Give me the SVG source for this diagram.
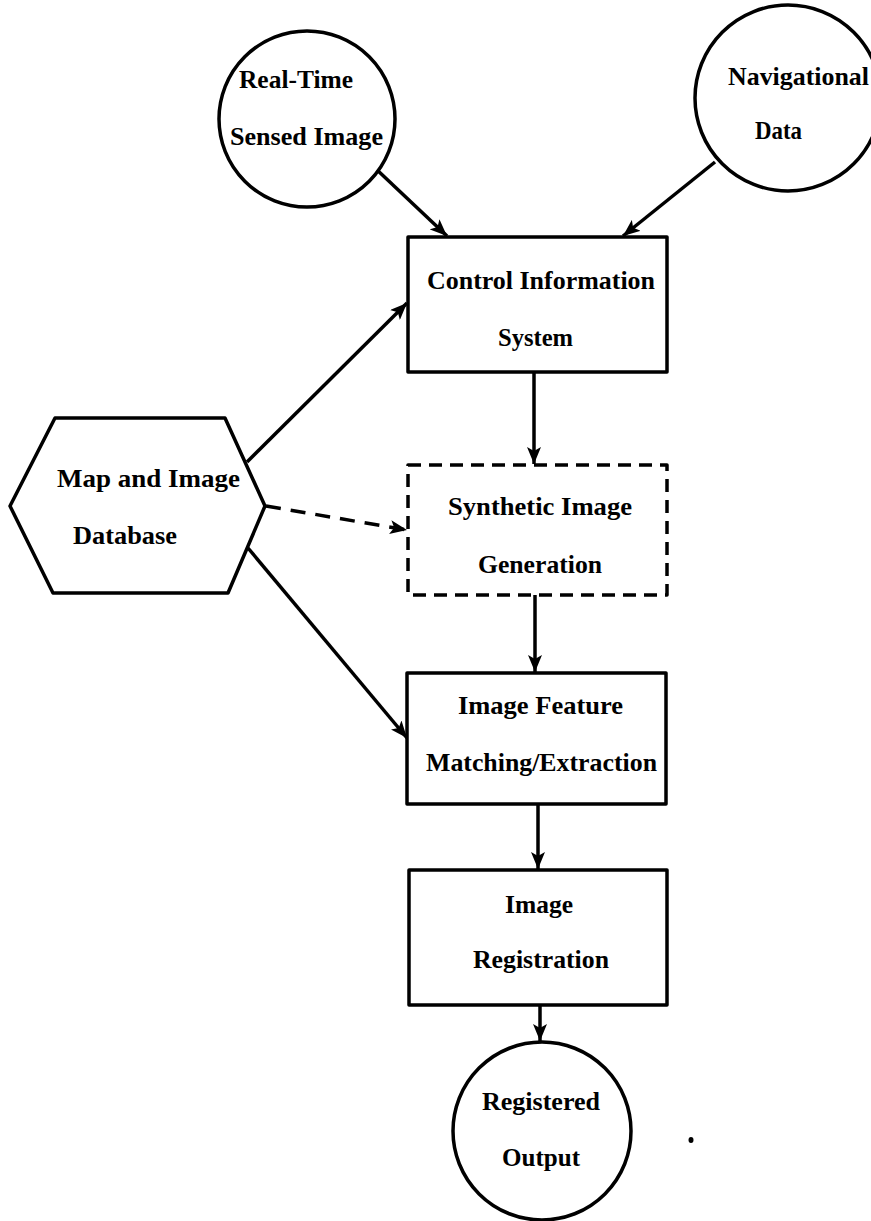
<svg xmlns="http://www.w3.org/2000/svg" width="871" height="1221" viewBox="0 0 871 1221">
<style>
.shape{fill:#fff;stroke:#000;stroke-width:3.5;stroke-linejoin:round}
.dash{stroke-dasharray:13 8}
.conn{fill:none;stroke:#000;stroke-width:3.5}
.cdash{stroke-dasharray:15 10}
text{font-family:"Liberation Serif","Times New Roman",serif;font-weight:bold;font-size:26px;fill:#000}
</style>
<defs>
<marker id="ah" markerUnits="userSpaceOnUse" markerWidth="18" markerHeight="14" refX="17" refY="7" orient="auto">
<path d="M0,0 L17,7 L0,14 L4,7 z" fill="#000"/>
</marker>
</defs>
<rect width="871" height="1221" fill="#fff"/>
<g id="connectors">
<line class="conn" x1="375" y1="168" x2="447" y2="236" marker-end="url(#ah)"/>
<line class="conn" x1="715" y1="162" x2="623" y2="236" marker-end="url(#ah)"/>
<line class="conn" x1="247" y1="462" x2="407" y2="303" marker-end="url(#ah)"/>
<line class="conn cdash" x1="266" y1="506" x2="407" y2="530" marker-end="url(#ah)"/>
<line class="conn" x1="248" y1="548" x2="407" y2="738" marker-end="url(#ah)"/>
<line class="conn" x1="534" y1="372" x2="534" y2="464" marker-end="url(#ah)"/>
<line class="conn" x1="535" y1="595" x2="535" y2="672" marker-end="url(#ah)"/>
<line class="conn" x1="538" y1="804" x2="538" y2="869" marker-end="url(#ah)"/>
<line class="conn" x1="540" y1="1005" x2="540" y2="1041" marker-end="url(#ah)"/>
</g>
<g id="realtime">
<circle class="shape" cx="307" cy="119" r="88"/>
<text x="239" y="88" textLength="114" lengthAdjust="spacingAndGlyphs">Real-Time</text>
<text x="230" y="145" textLength="153" lengthAdjust="spacingAndGlyphs">Sensed Image</text>
</g>
<g id="navigational">
<circle class="shape" cx="788" cy="98" r="93"/>
<text x="728" y="85" textLength="141" lengthAdjust="spacingAndGlyphs">Navigational</text>
<text x="755" y="139" textLength="47" lengthAdjust="spacingAndGlyphs">Data</text>
</g>
<g id="control">
<rect class="shape" x="408" y="237" width="259" height="135"/>
<text x="427" y="289" textLength="228" lengthAdjust="spacingAndGlyphs">Control Information</text>
<text x="498" y="346" textLength="75" lengthAdjust="spacingAndGlyphs">System</text>
</g>
<g id="mapdb">
<polygon class="shape" points="10,506 55,418 225,418 265,506 228,593 53,593"/>
<text x="57" y="487" textLength="183" lengthAdjust="spacingAndGlyphs">Map and Image</text>
<text x="73" y="544" textLength="104" lengthAdjust="spacingAndGlyphs">Database</text>
</g>
<g id="synthetic">
<rect class="shape dash" x="408" y="465" width="259" height="130"/>
<text x="448" y="515" textLength="184" lengthAdjust="spacingAndGlyphs">Synthetic Image</text>
<text x="478" y="573" textLength="124" lengthAdjust="spacingAndGlyphs">Generation</text>
</g>
<g id="feature">
<rect class="shape" x="407" y="673" width="259" height="131"/>
<text x="458" y="714" textLength="165" lengthAdjust="spacingAndGlyphs">Image Feature</text>
<text x="426" y="771" textLength="231" lengthAdjust="spacingAndGlyphs">Matching/Extraction</text>
</g>
<g id="registration">
<rect class="shape" x="409" y="870" width="258" height="135"/>
<text x="505" y="913" textLength="68" lengthAdjust="spacingAndGlyphs">Image</text>
<text x="473" y="968" textLength="136" lengthAdjust="spacingAndGlyphs">Registration</text>
</g>
<g id="output">
<circle class="shape" cx="542" cy="1131" r="89"/>
<text x="482" y="1110" textLength="118" lengthAdjust="spacingAndGlyphs">Registered</text>
<text x="502" y="1166" textLength="78" lengthAdjust="spacingAndGlyphs">Output</text>
</g>
<ellipse cx="691" cy="1140" rx="2.5" ry="3" fill="#000"/>
</svg>
